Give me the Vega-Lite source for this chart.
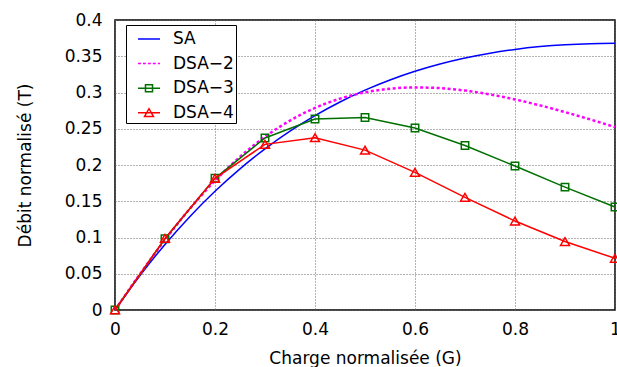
{
  "$schema": "https://vega.github.io/schema/vega-lite/v6.json",
  "width": 500,
  "height": 290,
  "autosize": {"type": "none"},
  "padding": {"left": 115, "top": 20, "right": 2, "bottom": 57},
  "background": "white",
  "config": {
    "font": "DejaVu Sans",
    "view": {"stroke": "black", "strokeWidth": 1.5},
    "axis": {
      "domain": false, "ticks": false, "grid": true,
      "gridColor": "#666", "gridDash": [1, 2], "gridWidth": 1, "gridOpacity": 1,
      "labelFont": "DejaVu Sans", "labelFontSize": 17, "labelColor": "black",
      "titleFont": "DejaVu Sans", "titleFontSize": 17, "titleFontWeight": "normal", "titleColor": "black",
      "labelFlush": false, "labelOverlap": false
    }
  },
  "data": {"values": [
    {"series": "SA", "G": 0, "T": 0},
    {"series": "SA", "G": 0.05, "T": 0.04756},
    {"series": "SA", "G": 0.1, "T": 0.09048},
    {"series": "SA", "G": 0.15, "T": 0.12911},
    {"series": "SA", "G": 0.2, "T": 0.16375},
    {"series": "SA", "G": 0.25, "T": 0.1947},
    {"series": "SA", "G": 0.3, "T": 0.22225},
    {"series": "SA", "G": 0.35, "T": 0.24664},
    {"series": "SA", "G": 0.4, "T": 0.26813},
    {"series": "SA", "G": 0.45, "T": 0.28693},
    {"series": "SA", "G": 0.5, "T": 0.30327},
    {"series": "SA", "G": 0.55, "T": 0.31732},
    {"series": "SA", "G": 0.6, "T": 0.32929},
    {"series": "SA", "G": 0.65, "T": 0.33933},
    {"series": "SA", "G": 0.7, "T": 0.34761},
    {"series": "SA", "G": 0.75, "T": 0.35428},
    {"series": "SA", "G": 0.8, "T": 0.35946},
    {"series": "SA", "G": 0.85, "T": 0.3633},
    {"series": "SA", "G": 0.9, "T": 0.36591},
    {"series": "SA", "G": 0.95, "T": 0.3674},
    {"series": "SA", "G": 1.0, "T": 0.36788},
    {"series": "DSA−2", "G": 0, "T": 0},
    {"series": "DSA−2", "G": 0.05, "T": 0.04955},
    {"series": "DSA−2", "G": 0.1, "T": 0.09671},
    {"series": "DSA−2", "G": 0.15, "T": 0.13992},
    {"series": "DSA−2", "G": 0.2, "T": 0.17826},
    {"series": "DSA−2", "G": 0.25, "T": 0.2113},
    {"series": "DSA−2", "G": 0.3, "T": 0.23893},
    {"series": "DSA−2", "G": 0.35, "T": 0.2613},
    {"series": "DSA−2", "G": 0.4, "T": 0.2787},
    {"series": "DSA−2", "G": 0.45, "T": 0.29153},
    {"series": "DSA−2", "G": 0.5, "T": 0.30021},
    {"series": "DSA−2", "G": 0.55, "T": 0.30522},
    {"series": "DSA−2", "G": 0.6, "T": 0.307},
    {"series": "DSA−2", "G": 0.65, "T": 0.30601},
    {"series": "DSA−2", "G": 0.7, "T": 0.30267},
    {"series": "DSA−2", "G": 0.75, "T": 0.29736},
    {"series": "DSA−2", "G": 0.8, "T": 0.29043},
    {"series": "DSA−2", "G": 0.85, "T": 0.2822},
    {"series": "DSA−2", "G": 0.9, "T": 0.27295},
    {"series": "DSA−2", "G": 0.95, "T": 0.26293},
    {"series": "DSA−2", "G": 1.0, "T": 0.25236},
    {"series": "DSA−3", "G": 0, "T": 0},
    {"series": "DSA−3", "G": 0.1, "T": 0.09826},
    {"series": "DSA−3", "G": 0.2, "T": 0.18163},
    {"series": "DSA−3", "G": 0.3, "T": 0.23731},
    {"series": "DSA−3", "G": 0.4, "T": 0.2635},
    {"series": "DSA−3", "G": 0.5, "T": 0.26557},
    {"series": "DSA−3", "G": 0.6, "T": 0.25107},
    {"series": "DSA−3", "G": 0.7, "T": 0.22695},
    {"series": "DSA−3", "G": 0.8, "T": 0.19857},
    {"series": "DSA−3", "G": 0.9, "T": 0.16953},
    {"series": "DSA−3", "G": 1.0, "T": 0.14205},
    {"series": "DSA−4", "G": 0, "T": 0},
    {"series": "DSA−4", "G": 0.1, "T": 0.09882},
    {"series": "DSA−4", "G": 0.2, "T": 0.18161},
    {"series": "DSA−4", "G": 0.3, "T": 0.22846},
    {"series": "DSA−4", "G": 0.4, "T": 0.23771},
    {"series": "DSA−4", "G": 0.5, "T": 0.22051},
    {"series": "DSA−4", "G": 0.6, "T": 0.18985},
    {"series": "DSA−4", "G": 0.7, "T": 0.15536},
    {"series": "DSA−4", "G": 0.8, "T": 0.12268},
    {"series": "DSA−4", "G": 0.9, "T": 0.09441},
    {"series": "DSA−4", "G": 1.0, "T": 0.07128}
  ]},
  "encoding": {
    "x": {
      "field": "G", "type": "quantitative",
      "scale": {"domain": [0, 1], "nice": false, "zero": false},
      "axis": {
        "values": [0, 0.2, 0.4, 0.6, 0.8, 1], "format": "~g",
        "title": "Charge normalisée (G)", "labelPadding": 11,
        "titleBaseline": "alphabetic", "titleX": 250, "titleY": 53
      }
    },
    "y": {
      "field": "T", "type": "quantitative",
      "scale": {"domain": [0, 0.4], "nice": false, "zero": false},
      "axis": {
        "values": [0, 0.05, 0.1, 0.15, 0.2, 0.25, 0.3, 0.35, 0.4], "format": "~g",
        "title": "Débit normalisé (T)", "labelPadding": 13,
        "titleX": -81, "titleY": 145
      }
    }
  },
  "layer": [
    {
      "transform": [{"filter": "datum.series == 'SA'"}],
      "mark": {"type": "line", "color": "#0000ff", "strokeWidth": 1.5, "interpolate": "monotone"}
    },
    {
      "transform": [{"filter": "datum.series == 'DSA−2'"}],
      "mark": {"type": "line", "color": "#ff00ff", "strokeWidth": 2.5, "strokeDash": [3, 2.5], "interpolate": "monotone"}
    },
    {
      "transform": [{"filter": "datum.series == 'DSA−3'"}],
      "mark": {"type": "line", "color": "#007000", "strokeWidth": 1.5}
    },
    {
      "transform": [{"filter": "datum.series == 'DSA−3'"}],
      "mark": {"type": "point", "shape": "square", "size": 55, "filled": false, "color": "#007000", "strokeWidth": 1.5, "opacity": 1}
    },
    {
      "transform": [{"filter": "datum.series == 'DSA−4'"}],
      "mark": {"type": "line", "color": "#ff0000", "strokeWidth": 1.5}
    },
    {
      "transform": [{"filter": "datum.series == 'DSA−4'"}],
      "mark": {"type": "point", "shape": "triangle-up", "size": 80, "filled": false, "color": "#ff0000", "strokeWidth": 1.5, "opacity": 1}
    },
    {
      "mark": {"type": "point", "filled": false, "opacity": 0, "size": 484},
      "encoding": {
        "color": {
          "field": "series", "type": "nominal",
          "scale": {"domain": ["SA", "DSA−2", "DSA−3", "DSA−4"], "range": ["#0000ff", "#ff00ff", "#007000", "#ff0000"]},
          "legend": {
            "title": "\u00a0\u00a0", "titleOrient": "right", "titlePadding": 0, "titleFontSize": 17, "titleFont": "DejaVu Sans",
            "orient": "none", "legendX": 11, "legendY": 5,
            "padding": 2, "symbolOffset": 9, "labelOffset": 12, "rowPadding": 4.6,
            "symbolSize": 484, "symbolStrokeWidth": 1.5, "symbolOpacity": 1,
            "strokeColor": "black", "fillColor": "white",
            "labelFont": "DejaVu Sans", "labelFontSize": 17, "labelColor": "black"
          }
        },
        "shape": {
          "field": "series", "type": "nominal",
          "scale": {
            "domain": ["SA", "DSA−2", "DSA−3", "DSA−4"],
            "range": [
              "M-1,0H1",
              "M-1,0H-0.73M-0.55,0H-0.28M-0.1,0H0.17M0.35,0H0.62M0.8,0H1",
              "M-1,0H1M-0.32,-0.32H0.32V0.32H-0.32Z",
              "M-1,0H1M-0.4,0.33L0,-0.37L0.4,0.33Z"
            ]
          },
          "legend": {
            "title": "\u00a0\u00a0", "titleOrient": "right", "titlePadding": 0, "titleFontSize": 17, "titleFont": "DejaVu Sans",
            "orient": "none", "legendX": 11, "legendY": 5,
            "padding": 2, "symbolOffset": 9, "labelOffset": 12, "rowPadding": 4.6,
            "symbolSize": 484, "symbolStrokeWidth": 1.5, "symbolOpacity": 1,
            "strokeColor": "black", "fillColor": "white",
            "labelFont": "DejaVu Sans", "labelFontSize": 17, "labelColor": "black"
          }
        }
      }
    }
  ]
}
